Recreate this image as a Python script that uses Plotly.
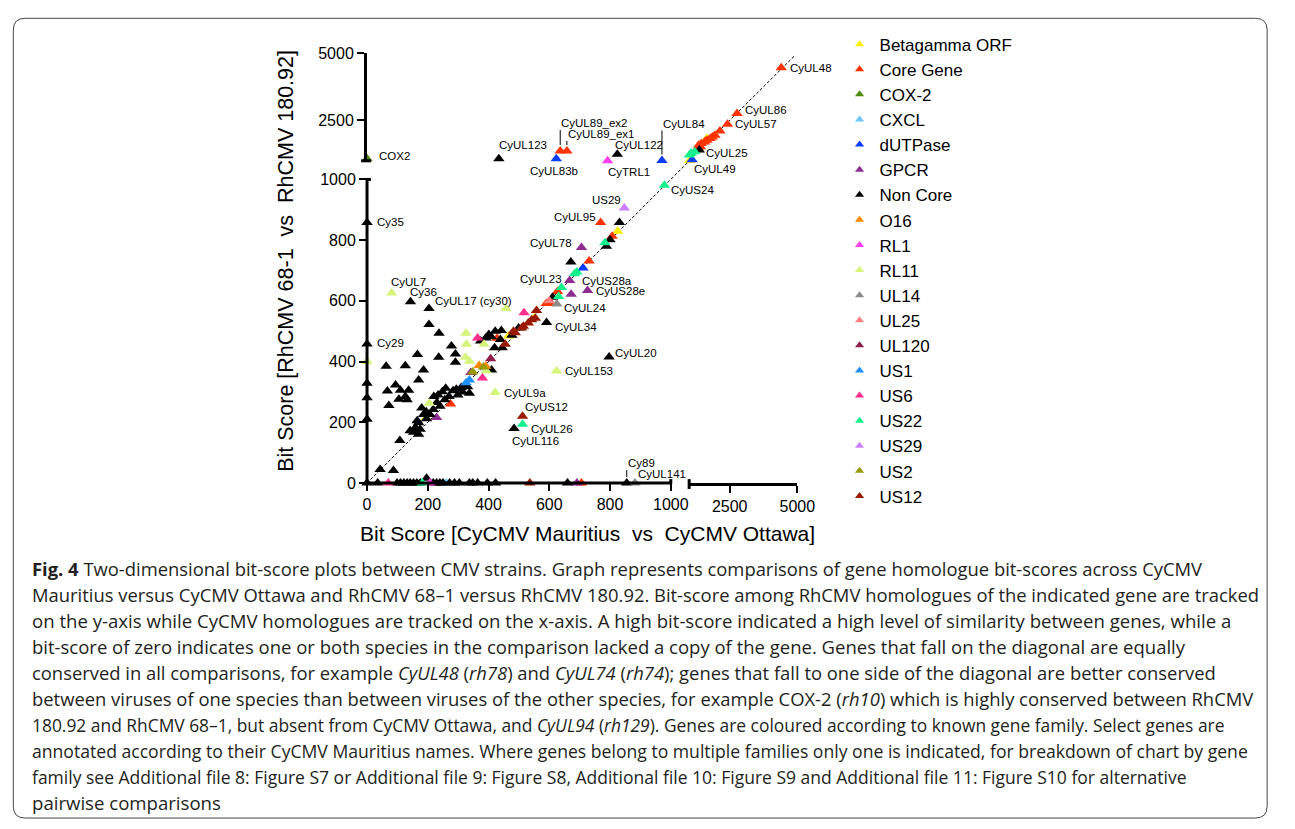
import plotly.graph_objects as go

W, H = 1295, 829

# ---------------- data ----------------
FAMILIES = ["Betagamma ORF", "Core Gene", "COX-2", "CXCL", "dUTPase", "GPCR", "Non Core",
            "O16", "RL1", "RL11", "UL14", "UL25", "UL120", "US1", "US6", "US22", "US29",
            "US2", "US12"]
COLORS = ["#ffee00", "#ff3300", "#4f8a0b", "#6cc8ff", "#0a3cff", "#8e2c8f", "#000000",
          "#ff8800", "#ff3ef0", "#d4f57a", "#8c8c8c", "#ff8080", "#8e1f4f", "#1e90ff",
          "#ff2e8c", "#14f08c", "#cc80ff", "#999900", "#991a00"]

BETAGAMMA_X = [825, 466, 552, 1654, 1020, 195]
BETAGAMMA_Y = [829, 484, 545, 1825, 1010, 215]

CORE_X = [4407, 2771, 2418, 2139, 1956, 1860, 1775, 1654, 1571, 1448, 1352, 1327, 1420,
          636, 658, 769, 807, 731, 627, 590, 598, 606, 428, 275, 706]
CORE_Y = [4454, 2756, 2356, 2102, 1945, 1884, 1825, 1764, 1702, 1642, 1582, 1480, 1520,
          1364, 1364, 858, 813, 731, 631, 591, 591, 591, 477, 260, 0]

COX2_X = [0]
COX2_Y = [1073]

CXCL_X = [261, 395]
CXCL_Y = [0, 378]

DUTPASE_X = [711, 623, 971, 1109]
DUTPASE_Y = [708, 1073, 1010, 1036]

GPCR_X = [706, 667, 672, 726, 229, 342, 691]
GPCR_Y = [776, 667, 622, 634, 216, 364, 0]

NONCORE_X = [434, 824, 1376,
             831, 800, 788, 671, 611, 591, 797, 484,
             143, 204, 204, 237,
             391, 409, 422, 442, 420, 445, 477, 499, 401, 374, 439,
             278, 291, 291, 166, 236,
             63, 126, 186, 170, 94, 110, 137, 126, 105, 67, 72, 132, 410,
             259, 248, 234, 220, 283, 294, 310, 326, 337, 299, 256, 240, 218, 180, 186, 207,
             196, 170, 159, 175, 153, 170, 142, 108, 43, 87, 331, 270, 315, 230, 195, 165,
             0, 35, 99, 110, 121, 132, 142, 153, 164, 175, 196, 218, 229, 240, 250, 272,
             288, 304, 337, 348, 364, 396, 423, 660, 855,
             0, 0, 0, 0, 0]
NONCORE_Y = [1073, 1244, 1400,
             858, 801, 780, 728, 612, 529, 415, 180,
             597, 575, 522, 493,
             478, 482, 500, 502, 446, 446, 487, 511, 489, 468, 473,
             451, 425, 398, 423, 414,
             385, 386, 372, 339, 323, 306, 306, 285, 276, 303, 255, 274, 372,
             312, 301, 290, 285, 304, 309, 315, 319, 296, 290, 274, 253, 242, 247, 226, 226,
             212, 199, 183, 177, 167, 161, 172, 140, 45, 41, 317, 285, 300, 265, 235, 205,
             0, 0, 0, 0, 0, 0, 0, 0, 0, 0, 16, 0, 0, 0, 0, 0,
             0, 0, 0, 0, 0, 0, 0, 0, 0,
             858, 458, 329, 281, 210]

O16_X = [369, 391]
O16_Y = [387, 385]

RL1_X = [207, 792]
RL1_Y = [0, 1005]

RL11_X = [81, 457, 326, 327, 324, 337, 385, 624, 422, 205, 0, 392]
RL11_Y = [626, 575, 493, 457, 414, 401, 457, 369, 298, 263, 400, 370]

UL14_X = [882, 625]
UL14_Y = [0, 590]

UL25_X = [600]
UL25_Y = [600]

UL120_X = [407]
UL120_Y = [409]

US1_X = [326, 337]
US1_Y = [330, 339]

US6_X = [70, 364, 517, 380]
US6_Y = [0, 478, 561, 346]

US22_X = [182, 640, 631, 691, 683, 783, 979, 512, 1072, 1207, 1010]
US22_Y = [0, 644, 614, 695, 689, 791, 981, 194, 1280, 1338, 1218]

US29_X = [847]
US29_Y = [906]

US2_X = [348, 383]
US2_Y = [366, 382]

US12_X = [512, 536, 558, 554, 542, 531, 515, 509, 488, 482, 455]
US12_Y = [220, 0, 568, 543, 538, 527, 516, 511, 495, 500, 457]

FAMILY_X = [BETAGAMMA_X, CORE_X, COX2_X, CXCL_X, DUTPASE_X, GPCR_X, NONCORE_X, O16_X,
            RL1_X, RL11_X, UL14_X, UL25_X, UL120_X, US1_X, US6_X, US22_X, US29_X, US2_X, US12_X]
FAMILY_Y = [BETAGAMMA_Y, CORE_Y, COX2_Y, CXCL_Y, DUTPASE_Y, GPCR_Y, NONCORE_Y, O16_Y,
            RL1_Y, RL11_Y, UL14_Y, UL25_Y, UL120_Y, US1_Y, US6_Y, US22_Y, US29_Y, US2_Y, US12_Y]

# annotated genes (text, x, y)
LABEL_TEXT = ["CyUL48", "CyUL86", "CyUL57", "CyUL25", "CyUL49", "CyUS24", "CyUL84",
              "CyUL122", "CyTRL1", "CyUL89_ex2", "CyUL89_ex1", "CyUL123", "CyUL83b",
              "COX2", "Cy35", "Cy29", "US29", "CyUL95", "CyUL78", "CyUL23", "CyUS28a",
              "CyUS28e", "CyUL24", "CyUL34", "CyUL20", "CyUL153", "CyUL9a", "CyUS12",
              "CyUL26", "CyUL116", "CyUL7", "Cy36", "CyUL17 (cy30)", "Cy89", "CyUL141"]
LABEL_X = [4407, 2771, 2418, 1376, 1109, 979, 971, 824, 792, 636, 658, 434, 623,
           0, 0, 0, 847, 769, 706, 640, 667, 726, 625, 591, 797, 624, 422, 512,
           512, 484, 81, 143, 204, 855, 882]
LABEL_Y = [4454, 2756, 2356, 1400, 1036, 981, 1010, 1244, 1005, 1364, 1364, 1073, 1073,
           1073, 858, 458, 906, 858, 776, 644, 667, 634, 590, 529, 415, 369, 298, 220,
           194, 180, 626, 597, 575, 0, 0]

DIAGONAL_MAX = 4900
X_TICKS_LOW = [0, 200, 400, 600, 800, 1000]
Y_TICKS_LOW = [0, 200, 400, 600, 800, 1000]
TICKS_HIGH = [2500, 5000]
BREAK_AT = 1000
HIGH_MAX = 5000

X_TITLE = "Bit Score [CyCMV Mauritius\u00a0\u00a0vs\u00a0\u00a0CyCMV Ottawa]"
Y_TITLE = "Bit Score [RhCMV 68-1\u00a0\u00a0vs\u00a0\u00a0RhCMV 180.92]"

CAPTION = [
    "<b>Fig. 4</b> Two-dimensional bit-score plots between CMV strains. Graph represents comparisons of gene homologue bit-scores across CyCMV",
    "Mauritius versus CyCMV Ottawa and RhCMV 68–1 versus RhCMV 180.92. Bit-score among RhCMV homologues of the indicated gene are tracked",
    "on the y-axis while CyCMV homologues are tracked on the x-axis. A high bit-score indicated a high level of similarity between genes, while a",
    "bit-score of zero indicates one or both species in the comparison lacked a copy of the gene. Genes that fall on the diagonal are equally",
    "conserved in all comparisons, for example <i>CyUL48</i> (<i>rh78</i>) and <i>CyUL74</i> (<i>rh74</i>); genes that fall to one side of the diagonal are better conserved",
    "between viruses of one species than between viruses of the other species, for example COX-2 (<i>rh10</i>) which is highly conserved between RhCMV",
    "180.92 and RhCMV 68–1, but absent from CyCMV Ottawa, and <i>CyUL94</i> (<i>rh129</i>). Genes are coloured according to known gene family. Select genes are",
    "annotated according to their CyCMV Mauritius names. Where genes belong to multiple families only one is indicated, for breakdown of chart by gene",
    "family see Additional file 8: Figure S7 or Additional file 9: Figure S8, Additional file 10: Figure S9 and Additional file 11: Figure S10 for alternative",
    "pairwise comparisons",
]
# per-line font size so each caption line spans like the printed text
CAPTION_SIZES = [18.4, 18.4, 18.6, 18.5, 18.4, 18.4, 17.4, 17.6, 17.5, 18.6]

# ---------------- layout geometry (page pixels) ----------------
X0_PX, X1000_PX, X2_START_PX, X2_END_PX = 369.3, 678.3, 697.0, 807.0
Y0_PX, Y1000_PX, Y2_START_PX, Y2_END_PX = 485.0, 175.0, 156.0, 46.0
X_EXT = BREAK_AT * (X2_START_PX - X0_PX) / (X1000_PX - X0_PX)
Y_EXT = BREAK_AT * (Y0_PX - Y2_START_PX) / (Y0_PX - Y1000_PX)


def px(v):
    return v / W


def py(v):
    return 1 - v / H


FONT = "Liberation Sans, Arial, Helvetica, sans-serif"
CAPTION_FONT = "Open Sans, Noto Sans, sans-serif"


def axes_for(x, y):
    return ("x" if x <= BREAK_AT else "x2", "y" if y <= BREAK_AT else "y2")


fig = go.Figure()

# diagonal y = x
fig.add_trace(go.Scatter(x=[0, X_EXT], y=[0, X_EXT], xaxis="x", yaxis="y", mode="lines",
                         line=dict(color="black", width=1, dash="3px,2px"),
                         showlegend=False, hoverinfo="skip"))
fig.add_trace(go.Scatter(x=[BREAK_AT, DIAGONAL_MAX], y=[BREAK_AT, DIAGONAL_MAX],
                         xaxis="x2", yaxis="y2", mode="lines",
                         line=dict(color="black", width=1, dash="3px,2px"),
                         showlegend=False, hoverinfo="skip"))

# data points
for name, col, xs, ys in zip(FAMILIES, COLORS, FAMILY_X, FAMILY_Y):
    groups = {}
    for x, y in zip(xs, ys):
        key = axes_for(x, y)
        groups.setdefault(key, ([], []))
        groups[key][0].append(x)
        groups[key][1].append(y)
    for (xa, ya), (gx, gy) in groups.items():
        fig.add_trace(go.Scatter(x=gx, y=gy, xaxis=xa, yaxis=ya, mode="markers",
                                 marker=dict(symbol="triangle-up", size=10, color=col,
                                             line=dict(width=0)),
                                 name=name, showlegend=False, cliponaxis=False))

# legend entries
for name, col in zip(FAMILIES, COLORS):
    fig.add_trace(go.Scatter(x=[None], y=[None], xaxis="x", yaxis="y", mode="markers",
                             marker=dict(symbol="triangle-up", size=8, color=col),
                             name=name, showlegend=True))

# label placement (xanchor, xshift, yshift) or arrow (ay)
LABEL_STYLE = {
    "CyUL48": ("left", 7, 0), "CyUL86": ("left", 6, 3), "CyUL57": ("left", 6, 0),
    "CyUL25": ("left", 5, -3), "CyUL49": ("left", 0, -9), "CyUS24": ("left", 5, -5),
    "CyUL122": ("left", -4, 9), "CyTRL1": ("left", -2, -11), "CyUL123": ("left", -2, 14),
    "CyUL83b": ("center", -2, -12), "COX2": ("left", 10, 3), "Cy35": ("left", 8, 1),
    "Cy29": ("left", 8, 1), "US29": ("right", -1, 8), "CyUL95": ("right", -3, 6),
    "CyUL78": ("right", -7, 4), "CyUL23": ("right", 3, 9), "CyUS28a": ("left", 10, 0),
    "CyUS28e": ("left", 6, 0), "CyUL24": ("left", 5, -4), "CyUL34": ("left", 6, -5),
    "CyUL20": ("left", 4, 4), "CyUL153": ("left", 6, 0), "CyUL9a": ("left", 7, 0),
    "CyUS12": ("left", 0, 9), "CyUL26": ("left", 6, -5), "CyUL116": ("left", -4, -13),
    "CyUL7": ("left", -3, 11), "Cy36": ("left", -2, 10), "CyUL17 (cy30)": ("left", 4, 7),
    "CyUL141": ("left", 1, 9),
}
ARROW_STYLE = {"CyUL84": -30, "CyUL89_ex2": -21, "CyUL89_ex1": -10, "Cy89": -13}

annotations = []
for t, x, y in zip(LABEL_TEXT, LABEL_X, LABEL_Y):
    xa, ya = axes_for(x, y)
    base = dict(x=x, y=y, xref=xa, yref=ya, text=t,
                font=dict(family=FONT, size=11.5, color="black"))
    if t in ARROW_STYLE:
        base.update(showarrow=True, arrowhead=0, arrowwidth=1, arrowcolor="black",
                    ax=0, ay=ARROW_STYLE[t], standoff=6, xanchor="left", yanchor="bottom",
                    borderpad=0)
    else:
        anc, xs_, ys_ = LABEL_STYLE[t]
        base.update(showarrow=False, xanchor=anc, yanchor="middle", xshift=xs_, yshift=ys_)
    annotations.append(base)

# axis titles
annotations.append(dict(x=px(287), y=py(258), xref="paper", yref="paper", showarrow=False,
                        text=Y_TITLE, textangle=-90, xanchor="center", yanchor="middle",
                        font=dict(family=FONT, size=21.5, color="black")))
annotations.append(dict(x=px(593.5), y=py(537), xref="paper", yref="paper", showarrow=False,
                        text=X_TITLE, xanchor="center", yanchor="middle",
                        font=dict(family=FONT, size=21, color="black")))

# caption
for i, (line, size) in enumerate(zip(CAPTION, CAPTION_SIZES)):
    annotations.append(dict(x=px(26), y=py(572 + 26.6 * i), xref="paper", yref="paper",
                            showarrow=False, text=line, xanchor="left", yanchor="middle",
                            font=dict(family=CAPTION_FONT, size=size, color="#231f20")))

# shapes: lower axis lines, break caps, border
shapes = [
    dict(type="line", xref="x domain", yref="y domain", x0=0, x1=BREAK_AT / X_EXT, y0=0, y1=0,
         line=dict(color="black", width=3)),
    dict(type="line", xref="x domain", yref="y domain", x0=0, x1=0, y0=0, y1=BREAK_AT / Y_EXT,
         line=dict(color="black", width=3)),
    dict(type="line", xref="x domain", yref="paper", x0=BREAK_AT / X_EXT, x1=BREAK_AT / X_EXT,
         y0=py(Y0_PX + 1), y1=py(Y0_PX - 4), line=dict(color="black", width=3)),
    dict(type="line", xref="x2 domain", yref="paper", x0=0, x1=0,
         y0=py(Y0_PX + 6), y1=py(Y0_PX - 4), line=dict(color="black", width=3)),
    dict(type="line", xref="paper", yref="y domain", x0=px(X0_PX - 1), x1=px(X0_PX + 4),
         y0=BREAK_AT / Y_EXT, y1=BREAK_AT / Y_EXT, line=dict(color="black", width=3)),
    dict(type="line", xref="paper", yref="y2 domain", x0=px(X0_PX - 6), x1=px(X0_PX + 4),
         y0=0, y1=0, line=dict(color="black", width=3)),
]
L, R, T, B = px(9.5), px(1285), py(10.5), py(827)
rx, ry = 12 / W, 12 / H
shapes.append(dict(type="path", xref="paper", yref="paper",
                   path=(f"M {L+rx},{T} L {R-rx},{T} Q {R},{T} {R},{T-ry} L {R},{B+ry} "
                         f"Q {R},{B} {R-rx},{B} L {L+rx},{B} Q {L},{B} {L},{B+ry} "
                         f"L {L},{T-ry} Q {L},{T} {L+rx},{T} Z"),
                   line=dict(color="#444", width=1)))

tick_common = dict(ticks="outside", ticklen=7, tickwidth=2, tickcolor="black",
                   showgrid=False, zeroline=False,
                   tickfont=dict(family=FONT, size=16, color="black"))

fig.update_layout(
    width=W, height=H, margin=dict(l=0, r=0, t=0, b=0),
    paper_bgcolor="white", plot_bgcolor="white",
    xaxis=dict(domain=[px(X0_PX), px(X2_START_PX)], range=[0, X_EXT], tickvals=X_TICKS_LOW,
               showline=False, anchor="y", **tick_common),
    xaxis2=dict(domain=[px(X2_START_PX), px(X2_END_PX)], range=[BREAK_AT, HIGH_MAX],
                tickvals=TICKS_HIGH, showline=True, linewidth=3, linecolor="black",
                anchor="y", **tick_common),
    yaxis=dict(domain=[py(Y0_PX), py(Y2_START_PX)], range=[0, Y_EXT], tickvals=Y_TICKS_LOW,
               showline=False, anchor="x", **tick_common),
    yaxis2=dict(domain=[py(Y2_START_PX), py(Y2_END_PX)], range=[BREAK_AT, HIGH_MAX],
                tickvals=TICKS_HIGH, showline=True, linewidth=3, linecolor="black",
                anchor="x", **tick_common),
    legend=dict(x=px(850), y=py(19), xanchor="left", yanchor="top",
                font=dict(family=FONT, size=17, color="black"),
                bgcolor="rgba(0,0,0,0)", itemwidth=30),
    annotations=annotations,
    shapes=shapes,
    showlegend=True,
)

fig.write_html("out.html")
